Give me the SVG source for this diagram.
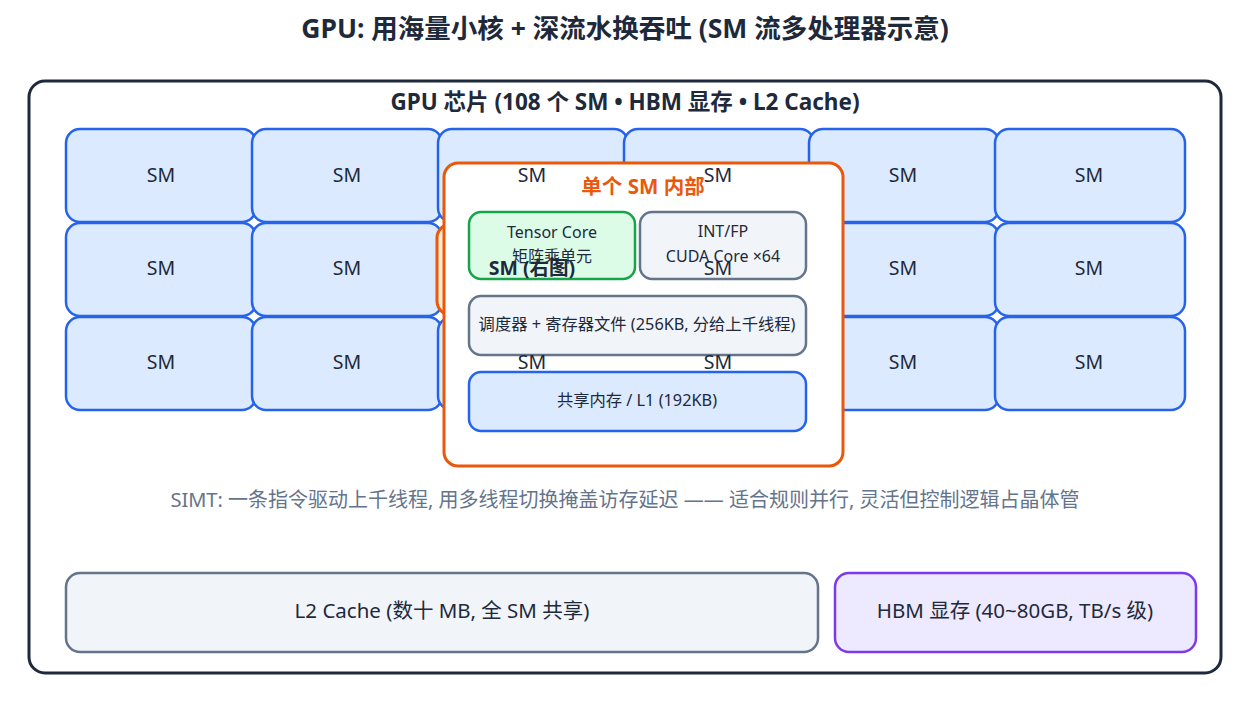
<svg xmlns="http://www.w3.org/2000/svg" width="1250" height="725" viewBox="0 0 1250 725">
<style>
text{font-family:"Noto Sans","Noto Sans CJK SC",sans-serif;text-anchor:middle;dominant-baseline:middle}
.sm{fill:#dbeafe;stroke:#2563eb;stroke-width:2.5}
.smt{font-size:19.5px;fill:#1e293b}
.gray{fill:#f1f5f9;stroke:#64748b;stroke-width:2.5}
</style>
<rect width="1250" height="725" fill="#fff"/>
<text x="625" y="31" font-size="26.5" font-weight="bold" fill="#1e293b">GPU: 用海量小核 + 深流水换吞吐 (SM 流多处理器示意)</text>
<g id="chip"><rect x="29" y="81" width="1192" height="592" rx="16" fill="#fff" stroke="#1e293b" stroke-width="3"/>
<text x="625" y="104" font-size="22.5" font-weight="bold" fill="#1e293b">GPU 芯片 (108 个 SM • HBM 显存 • L2 Cache)</text></g>
<g id="grid">
<rect class="sm" x="66" y="129" width="190" height="93" rx="14"/><rect class="sm" x="252" y="129" width="190" height="93" rx="14"/><rect class="sm" x="438" y="129" width="190" height="93" rx="14"/><rect class="sm" x="624" y="129" width="190" height="93" rx="14"/><rect class="sm" x="809" y="129" width="190" height="93" rx="14"/><rect class="sm" x="995" y="129" width="190" height="93" rx="14"/>
<rect class="sm" x="66" y="223" width="190" height="93" rx="14"/><rect class="sm" x="252" y="223" width="190" height="93" rx="14"/><rect x="437" y="224" width="190" height="91" rx="14" fill="#ffedd5" stroke="#ea580c" stroke-width="3"/><rect class="sm" x="624" y="223" width="190" height="93" rx="14"/><rect class="sm" x="809" y="223" width="190" height="93" rx="14"/><rect class="sm" x="995" y="223" width="190" height="93" rx="14"/>
<rect class="sm" x="66" y="317" width="190" height="93" rx="14"/><rect class="sm" x="252" y="317" width="190" height="93" rx="14"/><rect class="sm" x="438" y="317" width="190" height="93" rx="14"/><rect class="sm" x="624" y="317" width="190" height="93" rx="14"/><rect class="sm" x="809" y="317" width="190" height="93" rx="14"/><rect class="sm" x="995" y="317" width="190" height="93" rx="14"/>
</g>
<g id="sm-detail">
<rect x="444" y="163" width="399" height="303" rx="14" fill="#fff" stroke="#ea580c" stroke-width="3"/>
<text x="643" y="188" font-size="20.5" font-weight="bold" fill="#ea580c">单个 SM 内部</text>
<g id="tensor"><rect x="469" y="212" width="166" height="67" rx="12" fill="#dcfce7" stroke="#16a34a" stroke-width="2.5"/>
<text x="552" y="234" font-size="16" fill="#1e293b">Tensor Core</text><text x="552" y="258" font-size="16" fill="#1e293b">矩阵乘单元</text></g>
<g id="cuda"><rect class="gray" x="640" y="212" width="166" height="67" rx="12"/>
<text x="723" y="233" font-size="16" fill="#1e293b">INT/FP</text><text x="723" y="258" font-size="16" fill="#1e293b">CUDA Core ×64</text></g>
<g id="sched"><rect class="gray" x="469" y="296" width="337" height="59" rx="12"/>
<text x="637" y="326" font-size="16.3" fill="#1e293b">调度器 + 寄存器文件 (256KB, 分给上千线程)</text></g>
<g id="shared"><rect class="sm" x="469" y="372" width="337" height="59" rx="12"/>
<text x="637" y="402" font-size="16.3" fill="#1e293b">共享内存 / L1 (192KB)</text></g>
</g>
<g id="labels">
<text class="smt" x="161" y="177">SM</text><text class="smt" x="347" y="177">SM</text><text class="smt" x="532" y="177">SM</text><text class="smt" x="718" y="177">SM</text><text class="smt" x="903" y="177">SM</text><text class="smt" x="1089" y="177">SM</text>
<text class="smt" x="161" y="270">SM</text><text class="smt" x="347" y="270">SM</text><text class="smt" x="532" y="270" font-weight="bold">SM (右图)</text><text class="smt" x="718" y="270">SM</text><text class="smt" x="903" y="270">SM</text><text class="smt" x="1089" y="270">SM</text>
<text class="smt" x="161" y="364">SM</text><text class="smt" x="347" y="364">SM</text><text class="smt" x="532" y="364">SM</text><text class="smt" x="718" y="364">SM</text><text class="smt" x="903" y="364">SM</text><text class="smt" x="1089" y="364">SM</text>
</g>
<text x="625" y="502" font-size="20" fill="#64748b">SIMT: 一条指令驱动上千线程, 用多线程切换掩盖访存延迟 —— 适合规则并行, 灵活但控制逻辑占晶体管</text>
<g id="l2"><rect class="gray" x="66" y="573" width="752" height="79" rx="14"/><text x="442" y="612" font-size="20.5" fill="#1e293b">L2 Cache (数十 MB, 全 SM 共享)</text></g>
<g id="hbm"><rect x="835" y="573" width="361" height="79" rx="14" fill="#ede9fe" stroke="#7c3aed" stroke-width="2.5"/><text x="1015" y="612" font-size="20.5" fill="#1e293b">HBM 显存 (40~80GB, TB/s 级)</text></g>
<g id="connectors"/>
</svg>
